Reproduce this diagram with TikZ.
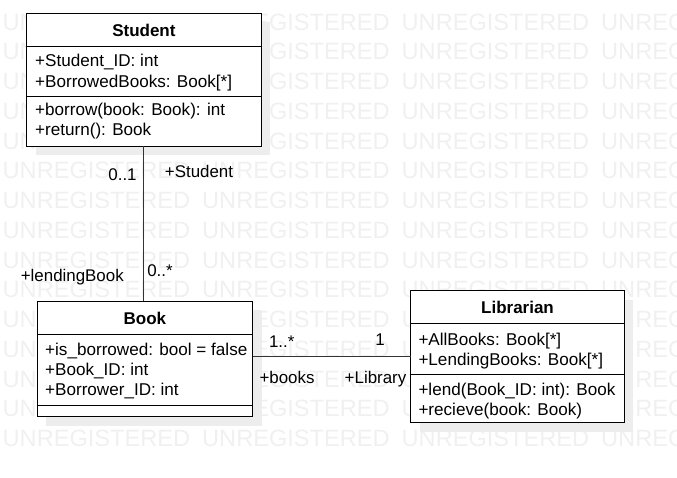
\documentclass[tikz,border=0pt]{standalone}
\usepackage{fontspec}
\setmainfont{Liberation Sans}
\begin{document}
\begin{tikzpicture}[x=1pt,y=-1pt,
  box/.style={draw=black, line width=1pt, fill=white, inner sep=0pt, outer sep=0pt, rectangle},
  shadowfill/.style={fill=black!7, draw=none},
  txt/.style={anchor=base west, inner sep=0pt, font=\fontsize{17.1}{20}\selectfont},
  ttl/.style={anchor=base, inner sep=0pt, font=\fontsize{17}{20}\selectfont\bfseries},
  lbl/.style={anchor=base, inner sep=0pt, font=\fontsize{16.9}{20}\selectfont},
  wm/.style={anchor=base west, inner sep=0pt, text=black!6, font=\fontsize{23.6}{28}\selectfont},
  conn/.style={draw=black!80, line width=1pt},
  sepline/.style={draw=black, line width=1pt}]
\useasboundingbox (0,0) rectangle (677,477);
\clip (0,0) rectangle (677,477);
% watermark
\foreach \r in {0,...,14} {
  \foreach \c in {0,...,3} {
    \node[wm] (wm-\r-\c) at ({2.5+199.5*\c},{30+29.76*\r}) {UNREGISTERED};
  }
}
% shadows
\fill[shadowfill] (35.5,22) rectangle (270.3,155);
\fill[shadowfill] (46,310) rectangle (261.7,425.7);
\fill[shadowfill] (419.7,299.7) rectangle (633.3,431.7);
% boxes
\node[box, minimum width=234.8pt, minimum height=133pt] (student) at (143.9,79.5) {};
\node[box, minimum width=215.7pt, minimum height=115.7pt] (book) at (144.85,358.85) {};
\node[box, minimum width=213.6pt, minimum height=132pt] (lib) at (517.5,356.7) {};
% dividers
\draw[sepline] (student.west |- 0,46.3) -- (student.east |- 0,46.3);
\draw[sepline] (student.west |- 0,96.3) -- (student.east |- 0,96.3);
\draw[sepline] (book.west |- 0,334.3) -- (book.east |- 0,334.3);
\draw[sepline] (book.west |- 0,405) -- (book.east |- 0,405);
\draw[sepline] (lib.west |- 0,323.7) -- (lib.east |- 0,323.7);
\draw[sepline] (lib.west |- 0,374.3) -- (lib.east |- 0,374.3);
% Student texts
\node[ttl] (st-t) at (143.9,36.7) {Student};
\node[txt] (st-a1) at (35,66.7) {+Student\_ID: int};
\node[txt] (st-a2) at (35,87.3) {+BorrowedBooks: Book[*]};
\node[txt] (st-m1) at (35,115.5) {+borrow(book: Book): int};
\node[txt] (st-m2) at (35,135.5) {+return(): Book};
% Book texts
\node[ttl] (bk-t) at (144.85,324.3) {Book};
\node[txt] (bk-a1) at (45,355) {+is\_borrowed: bool = false};
\node[txt] (bk-a2) at (45,375) {+Book\_ID: int};
\node[txt] (bk-a3) at (45,395) {+Borrower\_ID: int};
% Librarian texts
\node[ttl] (lb-t) at (517.5,313.3) {Librarian};
\node[txt] (lb-a1) at (418.3,345) {+AllBooks: Book[*]};
\node[txt] (lb-a2) at (418.3,365) {+LendingBooks: Book[*]};
\node[txt] (lb-m1) at (418.3,395) {+lend(Book\_ID: int): Book};
\node[txt] (lb-m2) at (418.3,415) {+recieve(book: Book)};
% connectors
\draw[conn] (student.south) -- (student.south |- book.north);
\draw[conn] (book.east |- lib.west) -- (lib.west);
% labels
\node[lbl] (l01) at (122.5,180) {0..1};
\node[lbl] (lst) at (199,177) {+Student};
\node[lbl] (llb) at (72.3,281.5) {+lendingBook};
\node[lbl] (l0s) at (160,276) {0..*};
\node[lbl] (l1s) at (281.7,347.3) {1..*};
\node[lbl] (l1) at (380,345) {1};
\node[lbl] (lbk) at (287,383) {+books};
\node[lbl] (llib) at (375.5,383) {+Library};
\end{tikzpicture}
\end{document}
